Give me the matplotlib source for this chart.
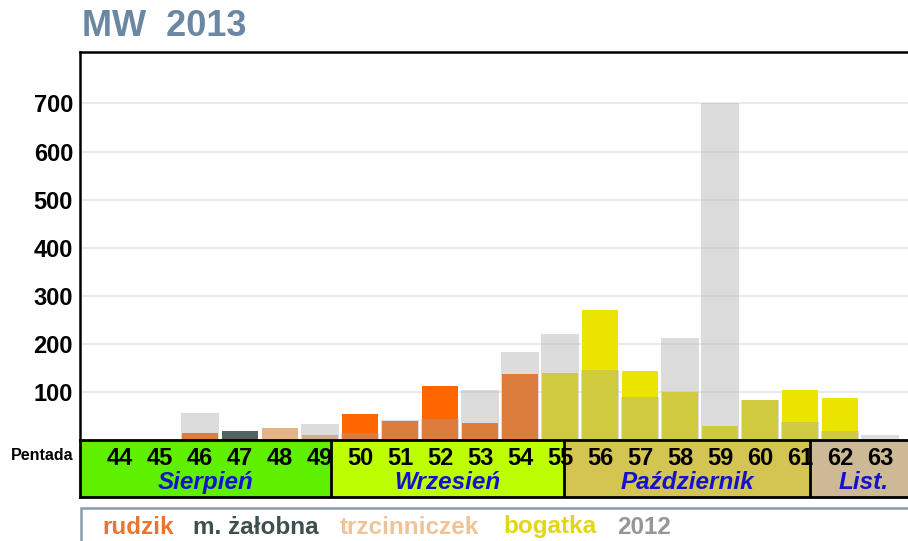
import numpy as np
import matplotlib.pyplot as plt
from matplotlib.patches import Rectangle

plt.rcParams['font.family'] = ['Liberation Sans', 'DejaVu Sans']

W, H = 908, 541

# data
pentads = np.arange(44, 64)
rudzik = [0, 0, 15, 0, 0, 0, 55, 40, 112, 35, 137, 0, 0, 0, 0, 0, 0, 0, 0, 0]
zalobna = [0, 0, 0, 19, 0, 0, 0, 0, 0, 0, 0, 0, 0, 0, 0, 0, 0, 0, 0, 0]
trzcinniczek = [0, 0, 0, 0, 25, 10, 0, 0, 0, 0, 0, 0, 0, 0, 0, 0, 0, 0, 0, 0]
bogatka = [0, 0, 0, 0, 0, 0, 0, 0, 0, 0, 0, 140, 271, 144, 99, 30, 84, 105, 88, 0]
y2012 = [0, 0, 57, 0, 0, 33, 15, 41, 43, 104, 184, 221, 146, 89, 213, 700, 84, 38, 19, 10]

months = ['Sierpień', 'Wrzesień', 'Październik', 'List.']
month_edges = [43.0, 49.275, 55.1, 61.25, 63.95]
month_colors = ['#5FF000', '#BEFF00', '#D4C452', '#CDB996']

bar_colors = {'rudzik': '#FF6600', 'm. żałobna': '#506464',
              'trzcinniczek': '#E6B482', 'bogatka': '#EBE400'}
legend_labels = ['rudzik', 'm. żałobna', 'trzcinniczek', 'bogatka', '2012']
legend_colors = ['#E87630', '#3C5050', '#F0C396', '#E1D714', '#969696']
legend_x = [102, 193, 340, 503, 617]

fig = plt.figure(figsize=(W / 100, H / 100), dpi=100)
fig.patch.set_facecolor('white')

def fx(px):
    return px / W

def fy(py):
    return 1 - py / H

ax = fig.add_axes([fx(80), fy(440), fx(910 - 80), (440 - 52) / H])
band = fig.add_axes([fx(80), fy(497), fx(910 - 80), (497 - 440) / H], sharex=ax)

for name, vals in [('rudzik', rudzik), ('m. żałobna', zalobna),
                   ('trzcinniczek', trzcinniczek), ('bogatka', bogatka)]:
    ax.bar(pentads, vals, width=0.92, color=bar_colors[name], zorder=2)
ax.bar(pentads, y2012, width=0.97, color='#A4A4A4', alpha=0.38, zorder=3)

ax.set_xlim(43.0, 63.75)
ax.set_ylim(0, 807)
ax.set_yticks([100, 200, 300, 400, 500, 600, 700])
ax.yaxis.grid(True, color='#E6E6E6', linewidth=1.2, zorder=0)
ax.set_axisbelow(True)
ax.tick_params(axis='y', length=0, pad=5, labelsize=17)
ax.tick_params(axis='x', length=0, labelbottom=False)
for lab in ax.get_yticklabels():
    lab.set_fontweight('bold')
for s in ['left', 'top']:
    ax.spines[s].set_linewidth(1.8)
    ax.spines[s].set_color('black')
ax.spines['right'].set_visible(False)
ax.spines['bottom'].set_visible(False)

# month band
band.set_ylim(0, 1)
for i, m in enumerate(months):
    band.axvspan(month_edges[i], month_edges[i + 1], color=month_colors[i], zorder=0)
    band.text((month_edges[i] + month_edges[i + 1]) / 2, 0.25, m, ha='center', va='center',
              fontsize=17.5, fontweight='bold', style='italic', color='#1212D0')
    if i > 0:
        band.axvline(month_edges[i], color='black', linewidth=2, zorder=3)
for p in pentads:
    band.text(p, 0.68, str(p), ha='center', va='center', fontsize=17,
              fontweight='bold', color='black', zorder=2)
band.set_yticks([])
band.tick_params(axis='x', length=0, labelbottom=False)
for s in ['left', 'top', 'bottom']:
    band.spines[s].set_linewidth(2)
    band.spines[s].set_color('black')
band.spines['right'].set_visible(False)

fig.text(fx(82), fy(27), 'MW  2013', ha='left', va='center', fontsize=26,
         fontweight='bold', color='#6A87A3')
fig.text(fx(74), fy(456), 'Pentada', ha='right', va='center', fontsize=11.5,
         fontweight='bold', color='black')

# legend box
fig.patches.append(Rectangle((fx(81), fy(560)), fx(900), (560 - 508) / H,
                             transform=fig.transFigure, facecolor='white',
                             edgecolor='#8A9AAA', linewidth=1.8))
for lab, col, x in zip(legend_labels, legend_colors, legend_x):
    fig.text(fx(x), fy(527), lab, ha='left', va='center', fontsize=17.5,
             fontweight='bold', color=col)

fig.savefig('out.png', dpi=100)
